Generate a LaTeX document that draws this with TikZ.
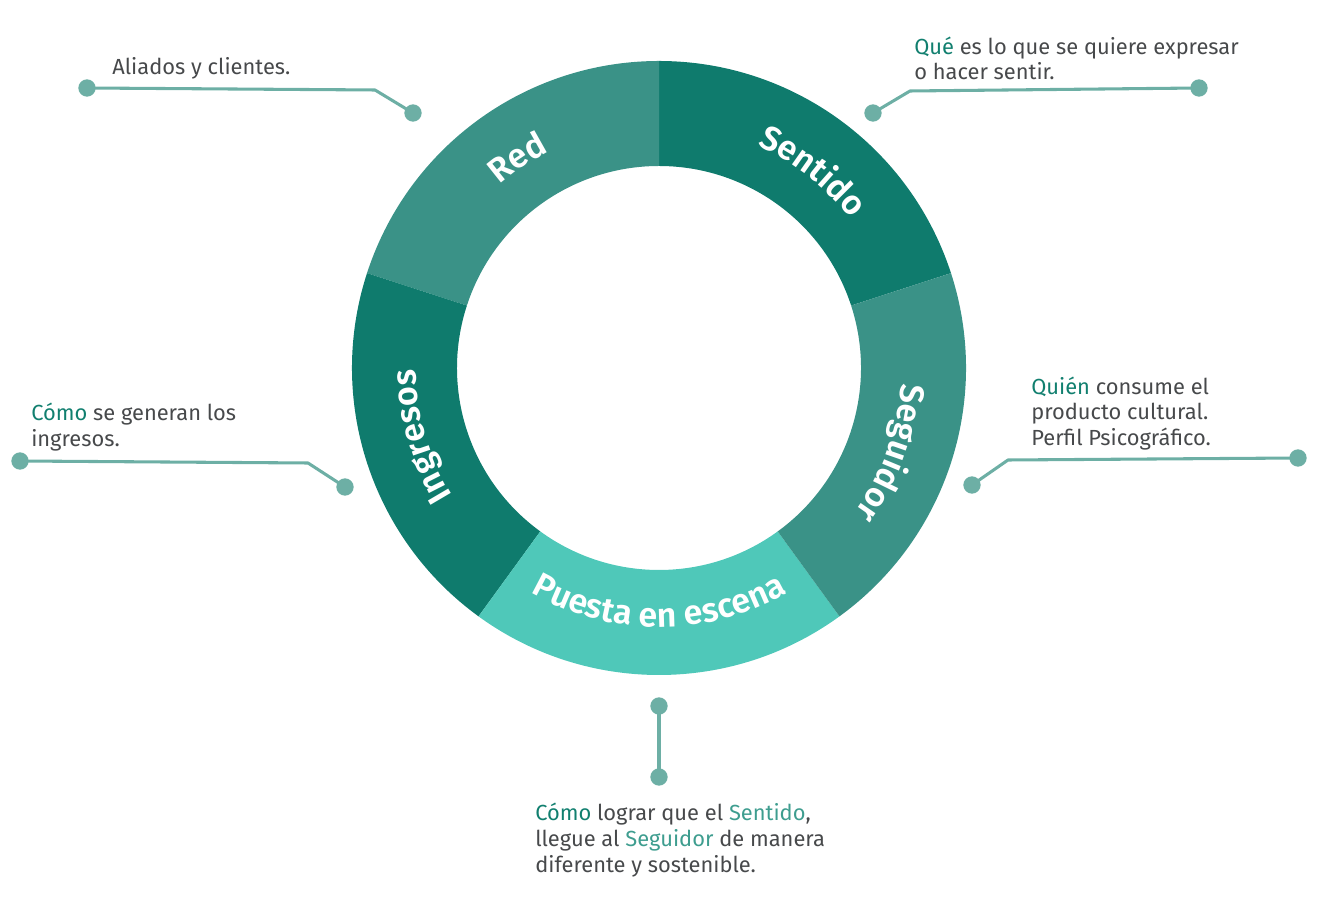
\documentclass[tikz,border=0pt]{standalone}
\usepackage{fontspec}
\setmainfont{Fira Sans}[BoldFont={Fira Sans SemiBold}]
\usetikzlibrary{decorations.text,calc}
\definecolor{segdark}{HTML}{0F7B6D}
\definecolor{segmid}{HTML}{3A9287}
\definecolor{seglight}{HTML}{4FC8B9}
\definecolor{linecol}{HTML}{6DAFA5}
\definecolor{txtcol}{HTML}{47494B}
\definecolor{hldark}{HTML}{117F6F}
\definecolor{hlmid}{HTML}{3E9D8F}
\newcommand\ringseg[3]{\fill[#3] ($(c)+(#1:307)$) arc[start angle=#1, end angle=#2, radius=307] -- ($(c)+(#2:202)$) arc[start angle=#2, end angle=#1, radius=202] -- cycle;}
\newcommand\ringfont{\fontsize{25.5}{25.5}\selectfont\bfseries\color{white}}
\newcommand\ringlabel[4]{\path[decorate, decoration={text along path, text align=center, text={|\ringfont|#4}}] ($(c)+(#1:#3)$) arc[start angle=#1, end angle=#2, radius=#3];}
\begin{document}
\begin{tikzpicture}[x=0.75pt,y=0.75pt,
  dot/.style={circle, fill=linecol, minimum size=13, inner sep=0pt},
  conn/.style={draw=linecol, line width=2.3pt, line join=round},
  note/.style={anchor=base west, inner sep=0pt, font=\fontsize{16.4}{19}\selectfont, text=txtcol}]
\useasboundingbox (0,0) rectangle (1318,917);
\coordinate (c) at (659,549);
% ring
\ringseg{18}{90}{segdark}
\ringseg{90}{162}{segmid}
\ringseg{162}{234}{segdark}
\ringseg{234}{306}{seglight}
\ringseg{306}{378}{segmid}
% ring labels
\ringlabel{88}{16}{243}{Sentido}
\ringlabel{160}{88}{243}{Red}
\ringlabel{232}{160}{243}{Ingresos}
\ringlabel{16}{-56}{243}{Seguidor}
\ringlabel{234}{306}{259}{Puesta en escena}
% callout Red
\node[dot] (r1) at (413,804) {};
\coordinate (re) at (375,827);
\node[dot] (r2) at (87,829) {};
\draw[conn] (r1.center) -- (re) -- (r2.center);
\node[note] (rt) at (112,842) {Aliados y clientes.};
% callout Sentido
\node[dot] (s1) at (873,804) {};
\coordinate (se) at (910,826);
\node[dot] (s2) at (1199,829) {};
\draw[conn] (s1.center) -- (se) -- (s2.center);
\node[note] (st1) at (914,862) {\textcolor{hldark}{Qué} es lo que se quiere expresar};
\node[note] (st2) at (914,837) {o hacer sentir.};
% callout Seguidor
\node[dot] (g1) at (972,432) {};
\coordinate (ge) at (1008,457);
\node[dot] (g2) at (1298,459) {};
\draw[conn] (g1.center) -- (ge) -- (g2.center);
\node[note] (gt1) at (1031,522) {\textcolor{hldark}{Quién} consume el};
\node[note] (gt2) at (1031,497) {producto cultural.};
\node[note] (gt3) at (1031,471) {Perfil Psicográfico.};
% callout Ingresos
\node[dot] (i1) at (345,430) {};
\coordinate (ie) at (308,454);
\node[dot] (i2) at (20,456) {};
\draw[conn] (i1.center) -- (ie) -- (i2.center);
\node[note] (it1) at (31,496) {\textcolor{hldark}{Cómo} se generan los};
\node[note] (it2) at (31,470) {ingresos.};
% callout Puesta en escena
\node[dot] (p1) at (659,211) {};
\node[dot] (p2) at (659,140) {};
\draw[conn] (p1.center) -- (p2.center);
\node[note] (pt1) at (535,96) {\textcolor{hldark}{Cómo} lograr que el \textcolor{hlmid}{Sentido},};
\node[note] (pt2) at (535,70) {llegue al \textcolor{hlmid}{Seguidor} de manera};
\node[note] (pt3) at (535,44) {diferente y sostenible.};
% redraw dots on top
\foreach \d in {r1,r2,s1,s2,g1,g2,i1,i2,p1,p2} \fill[linecol] (\d) circle (6.5);
\end{tikzpicture}
\end{document}
